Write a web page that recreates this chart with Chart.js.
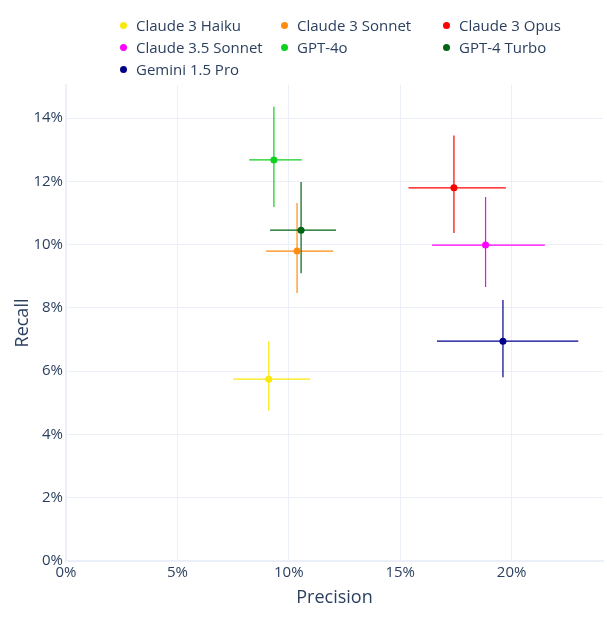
<!DOCTYPE html>
<html>
<head>
<meta charset="utf-8">
<script src="https://cdn.jsdelivr.net/npm/chart.js@4/dist/chart.umd.min.js"></script>
<style>
  body { margin: 0; background: #fff; }
  #wrap { position: relative; width: 607px; height: 625px; }
  #chart { position: absolute; left: 0; top: 0; }
  #legend { position: absolute; left: 0; top: 0; width: 607px; height: 85px;
    font-family: "Open Sans", sans-serif; font-size: 15px; color: #2a3f5f; }
  .item { position: absolute; white-space: nowrap; line-height: 20px; }
  .dot { position: absolute; width: 7px; height: 7px; border-radius: 50%; top: 7px; }
  .label { position: absolute; left: 16px; top: 0; }
</style>
</head>
<body>
<div id="wrap">
  <canvas id="chart" width="607" height="625"></canvas>
  <div id="legend"></div>
</div>
<script>
const models = ['Claude 3 Haiku', 'Claude 3 Sonnet', 'Claude 3 Opus', 'Claude 3.5 Sonnet', 'GPT-4o', 'GPT-4 Turbo', 'Gemini 1.5 Pro']
const colors = ['#fbe80c', '#ff8c10', '#ff0000', '#ff00ff', '#10d020', '#006414', '#00008b']

// percent values
const precision = [9.10, 10.37, 17.41, 18.83, 9.33, 10.55, 19.61]
const recall = [5.75, 9.80, 11.80, 9.99, 12.68, 10.46, 6.95]
const precisionLow = [7.50, 8.98, 15.37, 16.43, 8.22, 9.16, 16.65]
const precisionHigh = [10.96, 11.99, 19.74, 21.49, 10.58, 12.12, 22.99]
const recallLow = [4.75, 8.47, 10.37, 8.66, 11.19, 9.10, 5.81]
const recallHigh = [6.95, 11.32, 13.45, 11.51, 14.36, 11.98, 8.25]

const xTicks = [0, 5, 10, 15, 20]
const yTicks = [0, 2, 4, 6, 8, 10, 12, 14]

const textColor = '#2a3f5f'
const gridColor = '#ebf0f8'
const font = 'Open Sans'

// legend, 3 per row
const legend = document.getElementById('legend')
const colX = [120, 281, 443]
const rowY = [15, 37, 59]
models.forEach((name, i) => {
  const el = document.createElement('div')
  el.className = 'item'
  el.style.left = colX[i % 3] + 'px'
  el.style.top = rowY[Math.floor(i / 3)] + 'px'
  el.innerHTML = '<span class="dot" style="background:' + colors[i] + '"></span><span class="label">' + name + '</span>'
  legend.appendChild(el)
})

// error bars drawn under the markers
const errorBars = {
  id: 'errorBars',
  beforeDatasetsDraw(chart) {
    const { ctx, chartArea, scales: { x, y } } = chart
    ctx.save()
    ctx.beginPath()
    ctx.rect(chartArea.left, chartArea.top, chartArea.right - chartArea.left, chartArea.bottom - chartArea.top)
    ctx.clip()
    ctx.lineWidth = 1.2
    models.forEach((m, i) => {
      const px = x.getPixelForValue(precision[i])
      const py = y.getPixelForValue(recall[i])
      ctx.strokeStyle = colors[i]
      ctx.beginPath()
      ctx.moveTo(x.getPixelForValue(precisionLow[i]), py)
      ctx.lineTo(x.getPixelForValue(precisionHigh[i]), py)
      ctx.moveTo(px, y.getPixelForValue(recallLow[i]))
      ctx.lineTo(px, y.getPixelForValue(recallHigh[i]))
      ctx.stroke()
    })
    ctx.restore()
  }
}

new Chart(document.getElementById('chart'), {
  type: 'scatter',
  data: {
    datasets: models.map((m, i) => ({
      label: m,
      data: [{ x: precision[i], y: recall[i] }],
      backgroundColor: colors[i],
      borderColor: colors[i],
      pointRadius: 3.5,
      borderWidth: 0
    }))
  },
  options: {
    responsive: false,
    animation: false,
    layout: { padding: { top: 85, right: 1, bottom: 0, left: 0 } },
    plugins: {
      legend: { display: false },
      tooltip: { enabled: false }
    },
    scales: {
      x: {
        type: 'linear',
        min: 0,
        max: 24.1,
        afterFit(s) { s.height = 64 },
        afterBuildTicks(s) { s.ticks = xTicks.map(v => ({ value: v })) },
        grid: { color: gridColor, drawTicks: false, lineWidth: 1 },
        border: { display: true, color: gridColor, width: 2 },
        ticks: {
          color: textColor, padding: 3, maxRotation: 0,
          font: { family: font, size: 15 },
          callback: v => v + '%'
        },
        title: {
          display: true, text: 'Precision', color: textColor,
          font: { family: font, size: 18 }, padding: { top: 0, bottom: 16 }
        }
      },
      y: {
        type: 'linear',
        min: 0,
        max: 15.05,
        afterFit(s) { s.width = 66 },
        afterBuildTicks(s) { s.ticks = yTicks.map(v => ({ value: v })) },
        grid: { color: gridColor, drawTicks: false, lineWidth: 1 },
        border: { display: true, color: gridColor, width: 2 },
        ticks: {
          color: textColor, padding: 3,
          font: { family: font, size: 15 },
          callback: v => v + '%'
        },
        title: {
          display: true, text: 'Recall', color: textColor,
          font: { family: font, size: 18 }, padding: { top: 12, bottom: 0 }
        }
      }
    }
  },
  plugins: [errorBars]
})
</script>
</body>
</html>
